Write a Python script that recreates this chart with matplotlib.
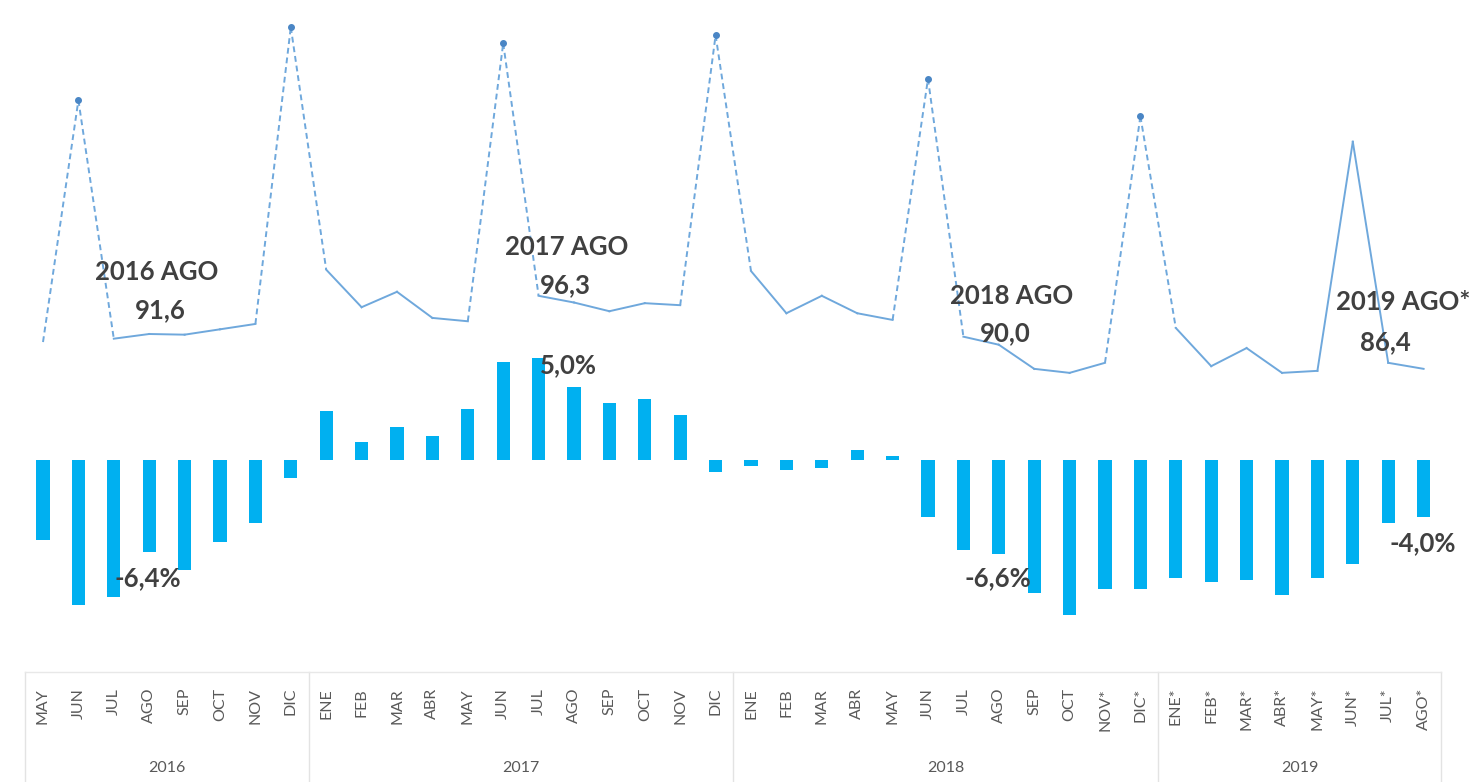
import numpy as np
import matplotlib.pyplot as plt
from matplotlib.lines import Line2D

plt.rcParams['font.family'] = ['Lato', 'DejaVu Sans']

meses = ['MAY', 'JUN', 'JUL', 'AGO', 'SEP', 'OCT', 'NOV', 'DIC',
         'ENE', 'FEB', 'MAR', 'ABR', 'MAY', 'JUN', 'JUL', 'AGO', 'SEP', 'OCT', 'NOV', 'DIC',
         'ENE', 'FEB', 'MAR', 'ABR', 'MAY', 'JUN', 'JUL', 'AGO', 'SEP', 'OCT', 'NOV*', 'DIC*',
         'ENE*', 'FEB*', 'MAR*', 'ABR*', 'MAY*', 'JUN*', 'JUL*', 'AGO*']
anios = ['2016', '2017', '2018', '2019']
meses_por_anio = [8, 12, 12, 8]

# indice (linea)
indice = [90.4, 126.5, 90.9, 91.6, 91.5, 92.3, 93.1, 137.4,
          101.2, 95.6, 97.9, 94.0, 93.5, 135.0, 97.3, 96.3, 95.0, 96.2, 95.9, 136.2,
          101.0, 94.7, 97.3, 94.7, 93.7, 129.7, 91.2, 90.0, 86.4, 85.8, 87.3, 124.1,
          92.5, 86.8, 89.5, 85.8, 86.1, 120.3, 87.3, 86.4]
# variacion interanual (%)
variacion = [-3.9, -7.1, -6.7, -4.5, -5.4, -4.0, -3.1, -0.9,
             2.4, 0.9, 1.6, 1.2, 2.5, 4.8, 5.0, 3.6, 2.8, 3.0, 2.2, -0.6,
             -0.3, -0.5, -0.4, 0.5, 0.2, -2.8, -4.4, -4.6, -6.5, -7.6, -6.3, -6.3,
             -5.8, -6.0, -5.9, -6.6, -5.8, -5.1, -3.1, -2.8]
picos = [1, 7, 13, 19, 25, 31]

W, H = 1473, 782
fig = plt.figure(figsize=(W / 100, H / 100), dpi=100)
L, R, TOP, BOT = 25.3, 1441.3, 0, 640
ax = fig.add_axes([L / W, 1 - BOT / H, (R - L) / W, (BOT - TOP) / H])
ax2 = ax.twinx()

x = np.arange(len(meses))
ax.bar(x, variacion, width=0.37, color='#00B0F0', zorder=2)
ax.set_xlim(-0.5, len(meses) - 0.5)
ax.set_ylim((460 - 640) / 20.4, 460 / 20.4)

col_linea = '#6FA8DC'
for i in range(len(x) - 1):
    if i in picos or i + 1 in picos:
        ax2.plot(x[i:i + 2], indice[i:i + 2], color=col_linea, lw=1.4, ls='--', dashes=(3, 2))
    else:
        ax2.plot(x[i:i + 2], indice[i:i + 2], color=col_linea, lw=1.4)
ax2.plot(x[picos], np.array(indice)[picos], 'o', color='#4A86C5', ms=4)
ax2.set_ylim(91.6 - (640 - 334) / 6.7, 91.6 + 334 / 6.7)

for a in (ax, ax2):
    for s in a.spines.values():
        s.set_visible(False)
    a.set_yticks([])
ax.set_xticks(x)
ax.set_xticklabels(meses, rotation=90, fontsize=11.5, color='#595959')
ax.tick_params(axis='x', length=0, pad=34.5)

# separadores de anio
tr = ax.get_xaxis_transform()
def fy(p):
    return (BOT - p) / (BOT - TOP)
bordes = np.concatenate([[0], np.cumsum(meses_por_anio)]) - 0.5
for b in bordes:
    ax.add_line(Line2D([b, b], [fy(672), fy(782)], transform=tr, color='#E3E3E3',
                       lw=1, clip_on=False))
ax.add_line(Line2D([bordes[0], bordes[-1]], [fy(672), fy(672)], transform=tr,
                   color='#E8E8E8', lw=1, clip_on=False))
for k, anio in enumerate(anios):
    ax.text((bordes[k] + bordes[k + 1]) / 2, fy(768), anio, transform=tr,
            ha='center', va='center', fontsize=11.5, color='#595959')

def px(xp, yp, s, size=18.5):
    fig.text(xp / W, 1 - yp / H, s, ha='center', va='center', fontsize=size,
             fontweight='bold', color='#404040')

px(157, 272, '2016 AGO')
px(160, 310, '91,6')
px(567, 247, '2017 AGO')
px(565, 285, '96,3')
px(1012, 296, '2018 AGO')
px(1005, 333, '90,0')
px(1403, 302, '2019 AGO*')
px(1385, 342, '86,4')
px(568, 365, '5,0%')
px(148, 578, '-6,4%')
px(998, 578, '-6,6%')
px(1423, 543, '-4,0%')

fig.savefig('out.png', dpi=100)
